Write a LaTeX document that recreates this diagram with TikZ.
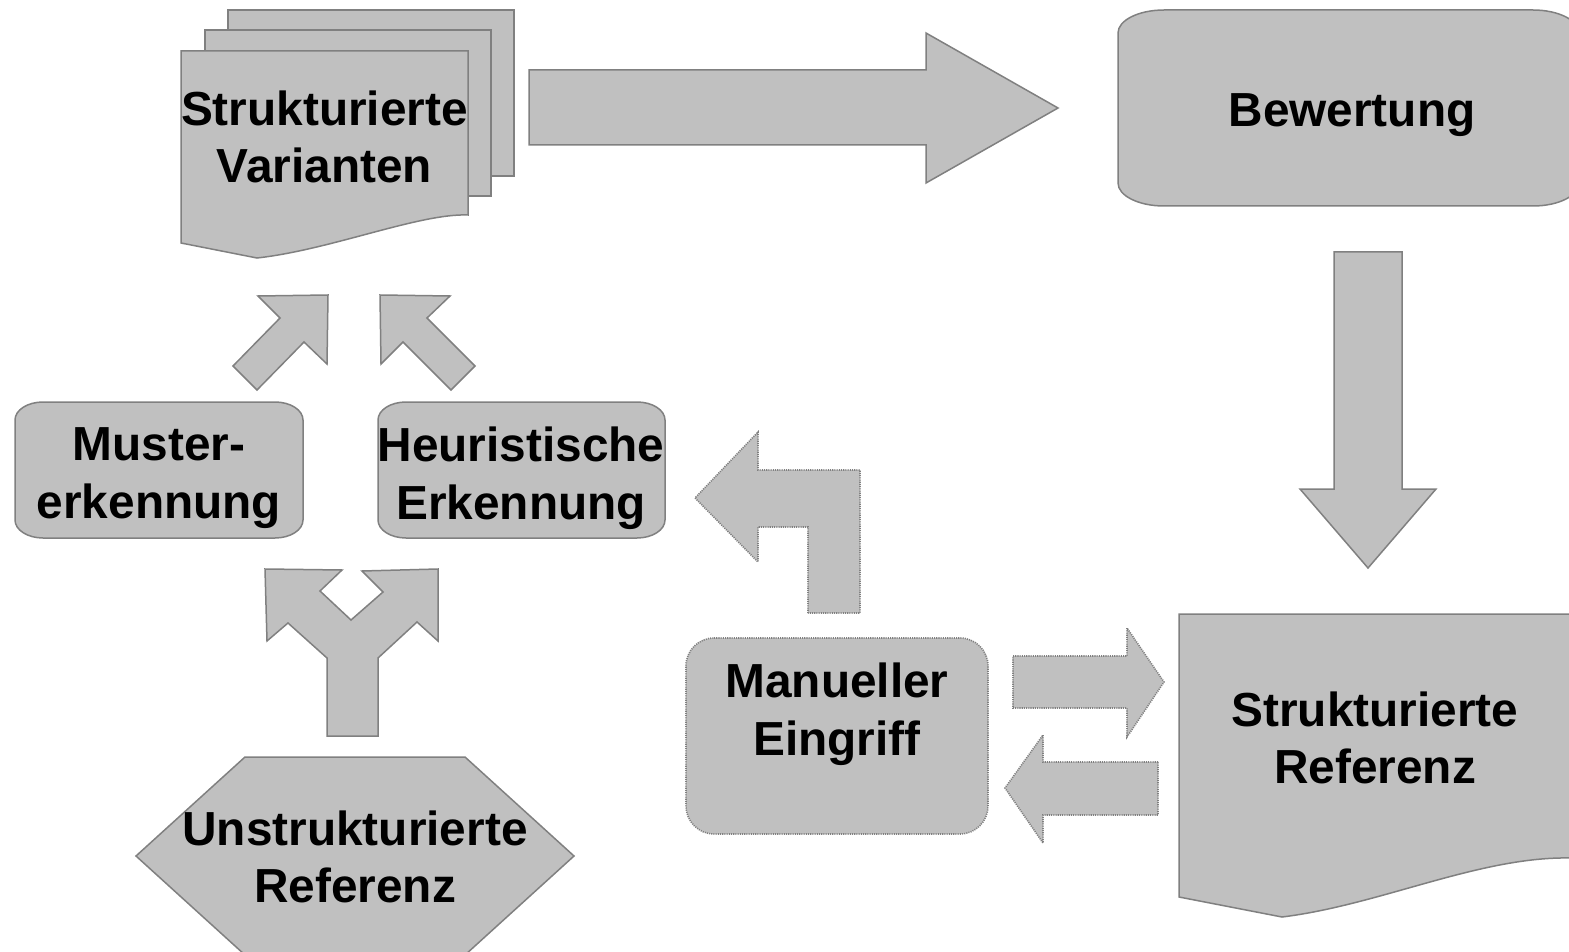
\documentclass[tikz,border=0pt]{standalone}
\usepackage{fontspec}
\setmainfont{Liberation Sans}
\definecolor{boxfill}{HTML}{C0C0C0}
\definecolor{boxline}{HTML}{808080}
\newcommand\altpath[6]{({#1+#5},#2) -- ({#3-#5},#2) .. controls ({#3-0.448*#5},#2) and (#3,{#2+0.448*#6}) .. (#3,{#2+#6}) -- (#3,{#4-#6}) .. controls (#3,{#4-0.448*#6}) and ({#3-0.448*#5},#4) .. ({#3-#5},#4) -- ({#1+#5},#4) .. controls ({#1+0.448*#5},#4) and (#1,{#4-0.448*#6}) .. (#1,{#4-#6}) -- (#1,{#2+#6}) .. controls (#1,{#2+0.448*#6}) and ({#1+0.448*#5},#2) .. ({#1+#5},#2) -- cycle}
\begin{document}
\begin{tikzpicture}[x=0.5pt,y=-0.5pt,
  solidshape/.style={fill=boxfill,draw=boxline,line width=0.75pt,line join=miter},
  dotshape/.style={fill=boxfill,draw=boxline,line width=0.8pt,dash pattern=on 0.55pt off 0.55pt},
  label/.style={font=\fontsize{23.9}{28.8}\selectfont\bfseries,align=center,inner sep=0pt,text=black}]
\useasboundingbox (0,0) rectangle (1569,952);
\clip (0,0) rectangle (1569,952);
% Strukturierte Varianten (multi-document)
\draw[solidshape] (228,10) rectangle (514,176);
\draw[solidshape] (205,30) rectangle (491,196);
\draw[solidshape] (181,51) -- (468,51) -- (468,215) .. controls (420,213) and (330,250) .. (257,258) -- (181,243) -- cycle;
\node[label] (varianten) at (324.5,137) {Strukturierte\\Varianten};
% big right arrow
\draw[solidshape] (529,70) -- (926,70) -- (926,33) -- (1058,108) -- (926,183) -- (926,145) -- (529,145) -- cycle;
% Bewertung
\draw[solidshape] \altpath{1118}{10}{1579}{206}{46}{23};
\node[label] (bewertung) at (1352,115) {Bewertung};
% down arrow
\draw[solidshape] (1334,252) -- (1402,252) -- (1402,489) -- (1436,489) -- (1368,568) -- (1300,489) -- (1334,489) -- cycle;
% Strukturierte Referenz (document)
\draw[solidshape] (1179,614) -- (1571,614) -- (1571,858) .. controls (1480,856) and (1380,905) .. (1282,917) -- (1179,897) -- cycle;
\node[label] (sref) at (1375,738) {Strukturierte\\Referenz};
% Manueller Eingriff
\draw[dotshape] \altpath{686}{638}{988}{834}{28}{28};
\node[label] (manuell) at (837,714) {Manueller\\Eingriff};
% dotted arrows
\draw[dotshape] (1013,656) -- (1127,656) -- (1127,628) -- (1164,682) -- (1127,737) -- (1127,708) -- (1013,708) -- cycle;
\draw[dotshape] (1158,762) -- (1043,762) -- (1043,735) -- (1005,788) -- (1043,843) -- (1043,815) -- (1158,815) -- cycle;
\draw[dotshape] (808,613) -- (808,527) -- (758,527) -- (758,562) -- (695,498) -- (758,432) -- (758,470) -- (860,470) -- (860,613) -- cycle;
% Muster- / Heuristische boxes
\draw[solidshape] \altpath{15}{402}{303}{538}{28}{18};
\node[label] (muster) at (159,478) {Muster-\\erkennung};
\draw[solidshape] \altpath{378}{402}{665}{538}{28}{18};
\node[label] (heur) at (521,478) {Heuristische\\Erkennung};
% diagonal arrows
\draw[solidshape] (233,366) -- (280,318) -- (258,296) -- (328,295) -- (327,364) -- (304,342) -- (257,390) -- cycle;
\draw[solidshape] (475,366) -- (427,318) -- (450,296) -- (380,295) -- (381,364) -- (403,342) -- (451,390) -- cycle;
% Y fork arrow
\draw[solidshape] (327,736) -- (327,658) -- (288,623) -- (267,641) -- (265,569) -- (342,570) -- (320,591) -- (351,620) -- (383,592) -- (362,571) -- (438,569) -- (438,641) -- (417,622) -- (378,658) -- (378,736) -- cycle;
% hexagon
\draw[solidshape] (245,757) -- (465,757) -- (574,856) -- (465,955) -- (245,955) -- (136,856) -- cycle;
\node[label] (uref) at (355,857) {Unstrukturierte\\Referenz};
\end{tikzpicture}
\end{document}
